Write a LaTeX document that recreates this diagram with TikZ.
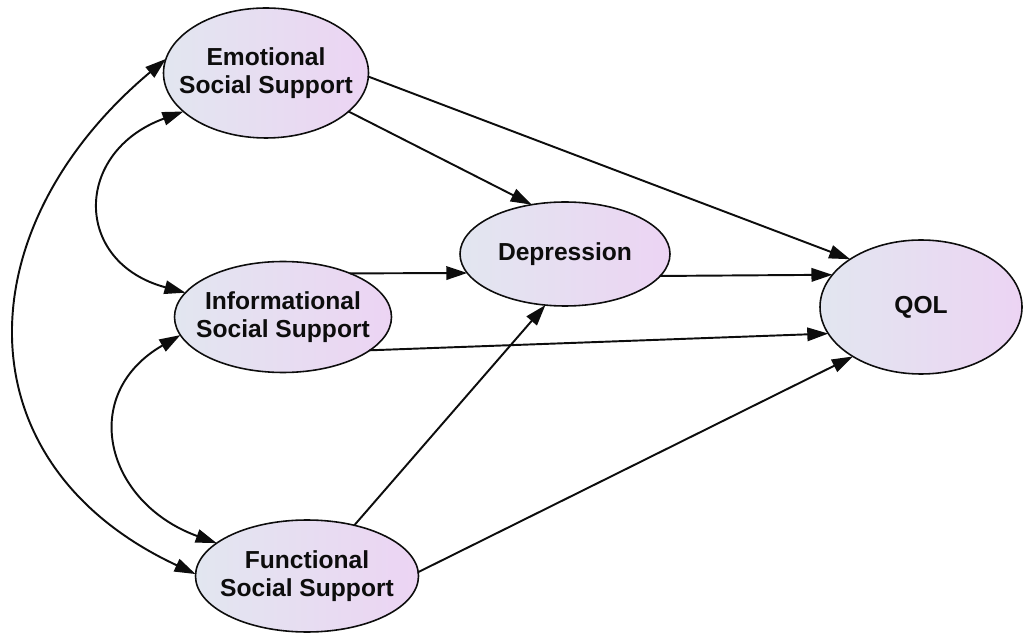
\documentclass[tikz,border=0pt]{standalone}
\usepackage{fontspec}
\setsansfont{Liberation Sans}
\usetikzlibrary{arrows.meta,shapes.geometric}
\definecolor{PathInk}{gray}{0.05}
\definecolor{PathLeft}{RGB}{226,230,240}
\definecolor{PathRight}{RGB}{236,212,243}
\tikzset{
    path/diagram/.style={
        font=\sffamily\bfseries\fontsize{14}{16}\selectfont,
        draw=PathInk,
        text=PathInk,
        line width=1.1pt,
        line cap=round,
        line join=round,
        every node/.style={inner sep=0pt, outer sep=0pt}
    },
    path/factor/.style={
        ellipse, align=center, draw=PathInk, line width=0.9pt,
        left color=PathLeft, right color=PathRight,
        inner xsep=-14pt, inner ysep=0pt,
        minimum width=4.2cm, minimum height=2.5cm
    },
    path/effect/.style={
        draw=PathInk, line width=1.1pt,
        -{Triangle[length=4.2mm, width=2.7mm]}
    },
    path/covary/.style={
        draw=PathInk, line width=1.1pt,
        {Triangle[length=4.2mm, width=2.7mm]}-{Triangle[length=4.2mm, width=2.7mm]}
    }
}
\begin{document}
\begin{tikzpicture}[path/diagram]
    \useasboundingbox (0,0) rectangle (20.5,12.7);
    \node[path/factor, minimum width=4.1cm, minimum height=2.6cm]
        (emo) at (5.32,11.24) {Emotional\\Social Support};
    \node[path/factor, minimum width=4.34cm, minimum height=2.22cm]
        (inf) at (5.66,6.36) {Informational\\Social Support};
    \node[path/factor, minimum width=4.46cm, minimum height=2.24cm]
        (fun) at (6.14,1.18) {Functional\\Social Support};
    \node[path/factor, minimum height=2.08cm] (dep) at (11.30,7.62) {Depression};
    \node[path/factor, minimum width=4.04cm, minimum height=2.68cm]
        (qol) at (18.42,6.56) {QOL};
    \draw[path/effect] (emo.335) -- (dep.124);
    \draw[path/effect] (emo.358) -- (qol.146);
    \draw[path/effect] (inf.33.7) -- (dep.191);
    \draw[path/effect] (inf.339) -- (qol.196);
    \draw[path/effect] (dep.347.7) -- (qol.160);
    \draw[path/effect] (fun.47) -- (dep.249);
    \draw[path/effect] (fun.2) -- (qol.216);
    \draw[path/covary] (emo.205) to[out=200, in=165, looseness=1.65] (inf.166);
    \draw[path/covary] (inf.190) to[out=210, in=160, looseness=1.44] (fun.160);
    \draw[path/covary] (emo.172) to[out=220, in=155, looseness=1.3] (fun.179);
\end{tikzpicture}
\end{document}
